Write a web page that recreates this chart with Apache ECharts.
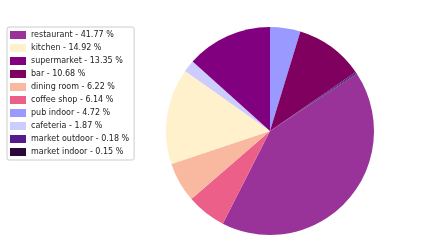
<!DOCTYPE html>
<html><head><meta charset="utf-8">
<script src="https://cdn.jsdelivr.net/npm/echarts@6/dist/echarts.min.js"></script>
<style>html,body{margin:0;padding:0;background:#fff}#c{width:430px;height:251px}</style>
</head><body><div id="c"></div>
<script>
// slices in clockwise drawing order from 12 o'clock
const categories = ["pub indoor","bar","market outdoor","market indoor","restaurant","coffee shop","dining room","kitchen","cafeteria","supermarket"];
const values = [4.72,10.68,0.18,0.15,41.77,6.14,6.22,14.92,1.87,13.35];
const colors = ["#9999ff","#800060","#551a8b","#2a0a3a","#993399","#ec5f88","#f8b9a0","#fff1cb","#ccccff","#800080"];
const legendOrder = ["restaurant","kitchen","supermarket","bar","dining room","coffee shop","pub indoor","cafeteria","market outdoor","market indoor"];

const valueOf = {};
categories.forEach((c,i)=>valueOf[c]=values[i]);

const chart = echarts.init(document.getElementById('c'), null, {renderer:'canvas'});
chart.setOption({
  animation:false,
  backgroundColor:'#ffffff',
  legend:{
    orient:'vertical', left:7, top:27,
    data:legendOrder,
    icon:'rect', itemWidth:16, itemHeight:8, itemGap:5,
    padding:[4,5,4,3],
    borderColor:'#cccccc', borderWidth:1, borderRadius:2,
    textStyle:{fontFamily:'DejaVu Sans', fontSize:8, color:'#222'},
    formatter: n => n + ' - ' + valueOf[n].toFixed(2) + ' %',
    selectedMode:false
  },
  series:[{
    type:'pie',
    center:[270,131], radius:104,
    startAngle:90, clockwise:true,
    label:{show:false}, labelLine:{show:false},
    itemStyle:{borderWidth:0},
    emphasis:{disabled:true},
    data:categories.map((c,i)=>({name:c,value:values[i],itemStyle:{color:colors[i]}}))
  }]
});
</script></body></html>
